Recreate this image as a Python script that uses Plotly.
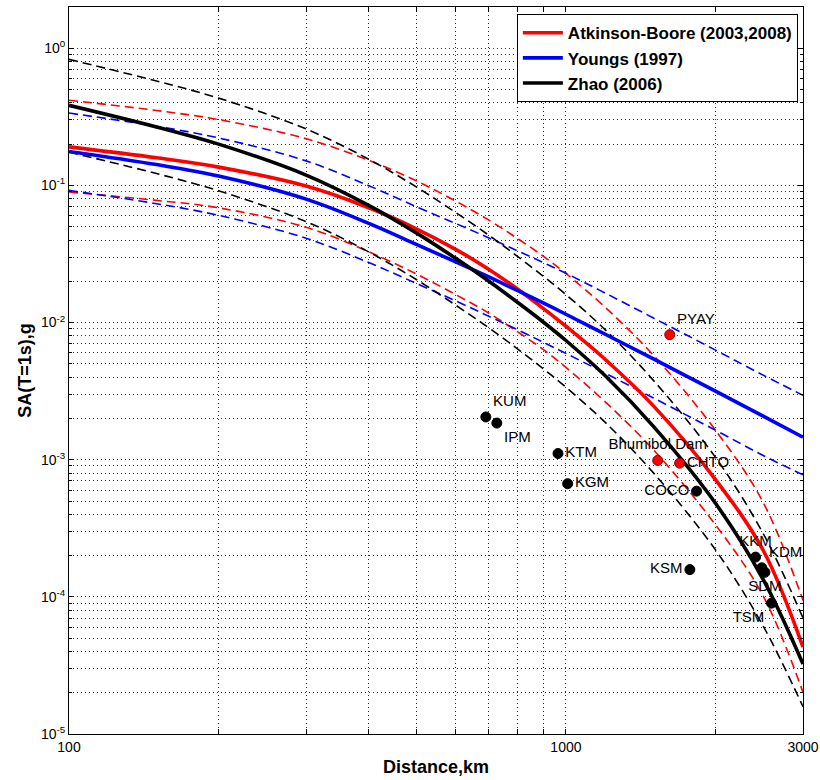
import plotly.graph_objects as go

# ---------------- data ----------------
distance = [100, 150, 200, 300, 400, 500, 600, 700, 800, 900, 1000, 1200, 1500, 2000, 2500, 3000]

ab_median = [0.191, 0.159, 0.136, 0.0989, 0.0690, 0.0483, 0.0342, 0.0244, 0.0175, 0.0127,
             0.00940, 0.00538, 0.00247, 7.16e-4, 2.15e-4, 4.30e-5]
ab_upper = [0.418, 0.352, 0.302, 0.219, 0.153, 0.108, 0.0769, 0.0558, 0.0409, 0.0305,
            0.0228, 0.0129, 0.00578, 1.64e-3, 4.81e-4, 9.40e-5]
ab_lower = [0.0895, 0.0778, 0.0687, 0.0495, 0.0330, 0.0226, 0.0160, 0.0117, 0.00855, 0.00637,
            0.00471, 0.00264, 0.00118, 3.35e-4, 1.00e-4, 2.01e-5]

youngs_median = [0.177, 0.142, 0.117, 0.0794, 0.0531, 0.0372, 0.0277, 0.0215, 0.0171, 0.0139,
                 0.0115, 0.00822, 0.00543, 0.00316, 0.00207, 0.00146]
youngs_upper = [0.337, 0.270, 0.222, 0.151, 0.100, 0.0700, 0.0528, 0.0414, 0.0333, 0.0274,
                0.0229, 0.0164, 0.0108, 0.00630, 0.00412, 0.00295]
youngs_lower = [0.0920, 0.0736, 0.0605, 0.0412, 0.0275, 0.0193, 0.0144, 0.0111, 0.00885, 0.00719,
                0.00596, 0.00427, 0.00282, 0.00164, 0.00107, 7.76e-4]

zhao_median = [0.384, 0.267, 0.200, 0.119, 0.0719, 0.0451, 0.0294, 0.0200, 0.0140, 0.0101,
               0.00740, 0.00409, 0.00175, 4.81e-4, 1.32e-4, 3.24e-5]
zhao_upper = [0.830, 0.577, 0.433, 0.258, 0.156, 0.0975, 0.0635, 0.0433, 0.0303, 0.0218,
              0.0160, 0.00885, 0.00379, 1.04e-3, 2.85e-4, 7.00e-5]
zhao_lower = [0.175, 0.122, 0.0914, 0.0545, 0.0329, 0.0206, 0.0134, 0.00914, 0.00641, 0.00461,
              0.00338, 0.00187, 8.02e-4, 2.20e-4, 6.03e-5, 1.58e-5]

station_names = ["PYAY", "Bhumibol Dam", "CHTO",
                 "KUM", "IPM", "KTM", "KGM", "COCO", "KSM", "KKM", "KDM", "SDM", "TSM"]
station_dist = [1618, 1530, 1694,
                690, 726, 964, 1008, 1832, 1776, 2408, 2478, 2515, 2593]
station_sa = [8.16e-3, 9.88e-4, 9.44e-4,
              2.05e-3, 1.85e-3, 1.11e-3, 6.68e-4, 5.90e-4, 1.58e-4, 1.95e-4, 1.63e-4, 1.51e-4, 9.0e-5]
station_group = ["red", "red", "red",
                 "black", "black", "black", "black", "black", "black", "black", "black", "black", "black"]
station_textpos = ["top right", "top center", "middle right",
                   "top right", "bottom right", "middle right", "middle right", "middle left",
                   "middle left", "top center", "top right", "bottom center", "bottom left"]

x_tick_vals = [100, 1000, 3000]
x_tick_text = ["100", "1000", "3000"]
x_minor_vals = [200, 300, 400, 500, 600, 700, 800, 900, 2000]
y_decades = [1e-5, 1e-4, 1e-3, 1e-2, 1e-1, 1e0]
y_tick_text = ["10<sup>-5</sup>", "10<sup>-4</sup>", "10<sup>-3</sup>", "10<sup>-2</sup>",
               "10<sup>-1</sup>", "10<sup>0</sup>"]
y_minor_vals = [m * d for d in [1e-5, 1e-4, 1e-3, 1e-2, 1e-1, 1e0] for m in range(2, 10)]

RED = "#FF0000"
BLUE = "#0000FF"
BLACK = "#000000"
FONT = "Arial, Liberation Sans, Helvetica, sans-serif"

fig = go.Figure()

dash_style = "9px,5px"
for series, color in [(ab_upper, RED), (ab_lower, RED),
                      (youngs_upper, BLUE), (youngs_lower, BLUE),
                      (zhao_upper, BLACK), (zhao_lower, BLACK)]:
    fig.add_trace(go.Scatter(x=distance, y=series, mode="lines",
                             line=dict(color=color, width=1.6, dash=dash_style, shape="spline", smoothing=1.0),
                             showlegend=False, hoverinfo="skip"))

for series, color, name in [(ab_median, RED, "Atkinson-Boore (2003,2008)"),
                            (youngs_median, BLUE, "Youngs (1997)"),
                            (zhao_median, BLACK, "Zhao (2006)")]:
    fig.add_trace(go.Scatter(x=distance, y=series, mode="lines", name=name,
                             line=dict(color=color, width=3.6, shape="spline", smoothing=1.0)))

for grp, fill, edge in [("black", BLACK, BLACK), ("red", RED, "#7a0000")]:
    idx = [i for i, g in enumerate(station_group) if g == grp]
    fig.add_trace(go.Scatter(
        x=[station_dist[i] for i in idx], y=[station_sa[i] for i in idx],
        text=[station_names[i] for i in idx],
        textposition=[station_textpos[i] for i in idx],
        mode="markers+text",
        marker=dict(color=fill, size=10, line=dict(color=edge, width=1)),
        textfont=dict(family=FONT, size=15, color=BLACK),
        showlegend=False, hoverinfo="skip"))

grid_col = "#333333"
grid_dash = "1px,3px"
fig.update_layout(
    width=820, height=780,
    margin=dict(l=69, r=17, t=7, b=46),
    paper_bgcolor="white", plot_bgcolor="white",
    font=dict(family=FONT, size=14, color=BLACK),
    showlegend=True,
    legend=dict(x=0.993, y=0.990, xanchor="right", yanchor="top",
                bgcolor="white", bordercolor=BLACK, borderwidth=1,
                font=dict(family=FONT, size=17, color=BLACK, weight="bold"),
                itemwidth=40, tracegroupgap=0),
    xaxis=dict(type="log", range=[2, 3.4771], automargin=False,
               tickmode="array", tickvals=x_tick_vals, ticktext=x_tick_text,
               ticks="inside", ticklen=5, tickcolor=BLACK,
               showline=True, linecolor=BLACK, linewidth=1, mirror="ticks",
               showgrid=True, gridcolor=grid_col, griddash=grid_dash, gridwidth=1,
               minor=dict(tickmode="array", tickvals=x_minor_vals, ticks="inside", ticklen=5,
                          tickcolor=BLACK, showgrid=True, gridcolor=grid_col, griddash=grid_dash, gridwidth=1),
               zeroline=False,
               tickfont=dict(family=FONT, size=14, color=BLACK),
               title=dict(text="Distance,km", standoff=6,
                          font=dict(family=FONT, size=18, color=BLACK, weight="bold"))),
    yaxis=dict(type="log", range=[-5, 0.301], automargin=False,
               tickmode="array", tickvals=y_decades, ticktext=y_tick_text,
               ticks="inside", ticklen=5, tickcolor=BLACK,
               showline=True, linecolor=BLACK, linewidth=1, mirror="ticks",
               showgrid=True, gridcolor=grid_col, griddash=grid_dash, gridwidth=1,
               minor=dict(tickmode="array", tickvals=y_minor_vals, ticks="inside", ticklen=3,
                          tickcolor=BLACK, showgrid=True, gridcolor=grid_col, griddash=grid_dash, gridwidth=1),
               zeroline=False,
               tickfont=dict(family=FONT, size=14, color=BLACK),
               title=dict(text="SA(T=1s),g", standoff=4,
                          font=dict(family=FONT, size=18, color=BLACK, weight="bold"))),
)

fig.write_html("out.html")
